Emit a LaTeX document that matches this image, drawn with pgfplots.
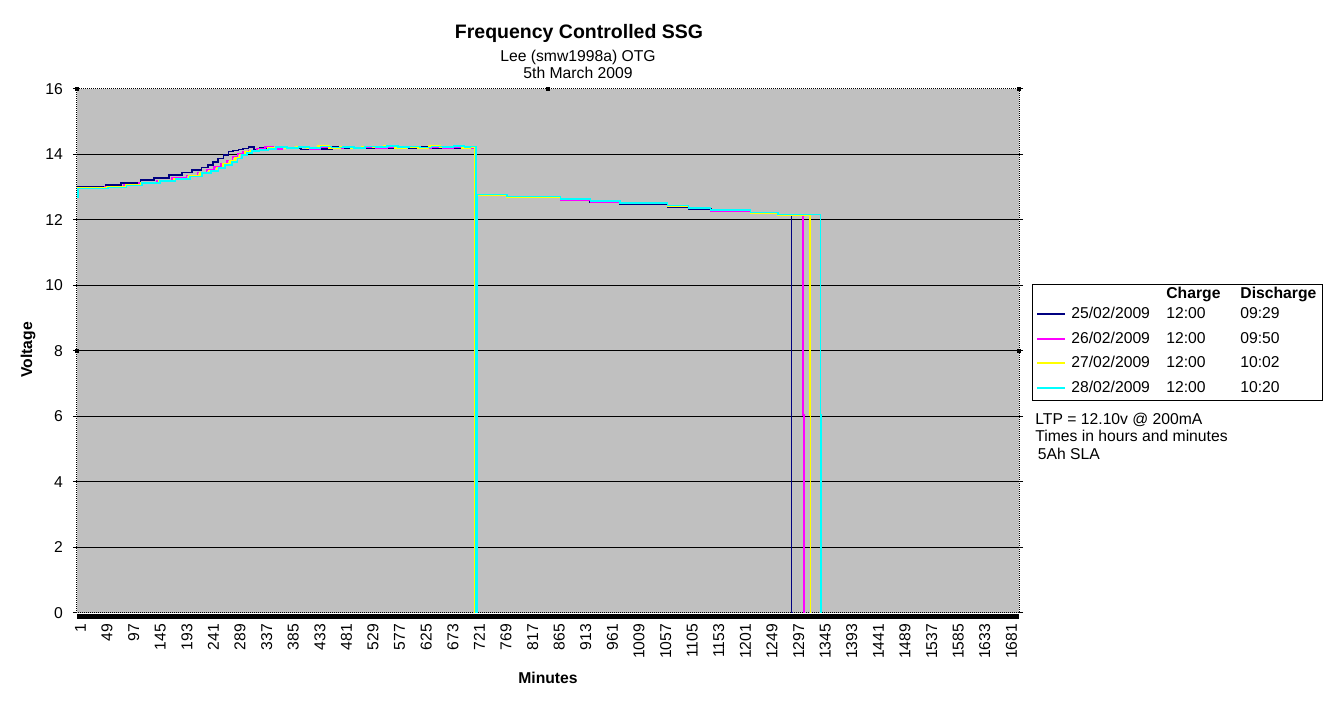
\documentclass[border=0pt]{standalone}
\usepackage{pgfplots}
\pgfplotsset{compat=1.18}
\usepackage{fontspec}
\setmainfont{Liberation Sans}
\definecolor{plotgray}{RGB}{192,192,192}
\definecolor{sNavy}{RGB}{0,0,128}
\definecolor{sMag}{RGB}{255,0,255}
\definecolor{sYel}{RGB}{255,255,0}
\definecolor{sCyan}{RGB}{0,255,255}
\newcommand{\fs}{\fontsize{7.85}{9.4}\selectfont}

\pgfplotstableread{
x y
1 12.75
2 13.02
52 13.07
80 13.12
115 13.22
140 13.28
166 13.37
190 13.45
208 13.53
225 13.60
237 13.68
246 13.78
255 13.88
265 13.98
274 14.09
282 14.12
292 14.15
300 14.18
310 14.22
320 14.15
330 14.20
345 14.17
360 14.22
375 14.18
390 14.21
405 14.15
420 14.20
440 14.17
460 14.22
480 14.18
500 14.21
520 14.19
540 14.22
560 14.20
580 14.23
600 14.20
620 14.22
640 14.19
660 14.23
680 14.21
700 14.22
712 14.20
720 14.22
721 0
722 12.75
777 12.69
873 12.60
927 12.54
981 12.48
1066 12.40
1104 12.33
1144 12.26
1216 12.20
1265 12.15
1290 0
1291 0
}\dataA

\pgfplotstableread{
x y
1 12.72
2 12.98
50 13.02
85 13.08
112 13.14
145 13.20
172 13.28
198 13.36
218 13.45
234 13.53
248 13.62
260 13.72
271 13.82
281 13.92
290 14.02
300 14.08
310 14.12
325 14.16
340 14.22
355 14.16
370 14.21
385 14.18
400 14.23
420 14.17
440 14.22
460 14.19
480 14.24
500 14.20
520 14.22
540 14.19
560 14.23
580 14.21
600 14.24
620 14.20
640 14.22
660 14.19
680 14.23
700 14.20
712 14.18
720 14.23
721 0
722 12.77
777 12.71
873 12.62
927 12.56
981 12.50
1066 12.42
1104 12.35
1144 12.28
1216 12.21
1265 12.16
1311 6.05
1312 0
1313 0
}\dataB

\pgfplotstableread{
x y
1 12.70
2 12.97
54 13.00
88 13.06
115 13.13
148 13.19
175 13.26
202 13.34
222 13.44
238 13.51
252 13.60
264 13.70
276 13.80
286 13.90
294 14.00
304 14.07
313 14.11
328 14.15
345 14.20
360 14.24
375 14.18
395 14.22
415 14.19
435 14.25
455 14.20
475 14.23
495 14.18
515 14.24
535 14.21
555 14.25
575 14.19
595 14.23
615 14.20
635 14.25
655 14.21
675 14.24
695 14.19
710 14.22
716 14.24
718 0
722 12.77
777 12.71
873 12.63
927 12.57
981 12.51
1066 12.43
1104 12.36
1144 12.29
1216 12.22
1265 12.16
1323 6.05
1324 0
1325 0
}\dataC

\pgfplotstableread{
x y
1 12.70
2 12.96
57 12.99
90 13.05
118 13.12
150 13.18
178 13.25
205 13.33
226 13.43
242 13.50
256 13.58
268 13.68
280 13.78
290 13.88
298 13.98
307 14.05
316 14.10
330 14.14
346 14.17
360 14.22
380 14.19
400 14.23
420 14.20
440 14.24
460 14.21
480 14.23
500 14.20
520 14.24
540 14.22
560 14.25
580 14.22
600 14.24
620 14.21
640 14.24
660 14.22
680 14.25
700 14.23
710 14.24
720 14.24
721 0
722 12.78
777 12.72
873 12.64
927 12.58
981 12.52
1066 12.44
1104 12.37
1144 12.30
1216 12.23
1265 12.17
1342 6.05
1343 0
1344 0
}\dataD

\begin{document}
\begin{tikzpicture}
\useasboundingbox (0,0) rectangle (664pt,364pt);
\begin{axis}[
  at={(38.5pt,57.5pt)}, anchor=south west,
  scale only axis, width=471pt, height=262pt,
  xmin=0.5, xmax=1700.5, ymin=0, ymax=16,
  xtick={1,49,...,1681},
  ytick={0,2,...,16},
  minor ytick={2,4,...,14},
  yminorgrids,
  minor grid style={black, line width=0.5pt},
  minor tick length=0pt,
  tick align=outside,
  major tick length=2pt,
  xtick style={draw=none},
  ytick style={black, line width=0.5pt},
  axis background/.style={fill=plotgray},
  axis line style={black, line width=0.5pt, dash pattern=on 0.5pt off 0.5pt},
  tick label style={font=\fs},
  /pgf/number format/assume math mode=true,
  /pgf/number format/1000 sep={},
  xticklabel style={rotate=90, anchor=east, yshift=-1.6pt},
  yticklabel style={xshift=-1.5pt},
]
\addplot[const plot, sNavy, line width=0.9pt] table {\dataA};
\addplot[const plot, sMag, line width=0.85pt] table {\dataB};
\addplot[const plot, sYel, line width=0.85pt] table {\dataC};
\addplot[const plot, sCyan, line width=0.85pt] table {\dataD};
\end{axis}

% bottom band of category axis
\draw[black, line width=2.35pt] (38.5pt,55.65pt) -- (509.5pt,55.65pt);
% selection handles
\foreach \p in {(38.5pt,319.5pt),(274pt,319.5pt),(509.5pt,319.5pt),(38.5pt,188.5pt),(509.5pt,188.5pt)}
  \fill[black] \p ++(-1.2pt,-1.2pt) rectangle ++(2.4pt,2.4pt);

% titles
\node[anchor=base, font=\bfseries\fontsize{9.75}{11}\selectfont] at (289.5pt,344.8pt) {Frequency Controlled SSG};
\node[anchor=base, font=\fs] at (289pt,333.2pt) {Lee (smw1998a) OTG};
\node[anchor=base, font=\fs] at (289pt,324.6pt) {5th March 2009};
\node[rotate=90, font=\bfseries\fs] at (14pt,189pt) {Voltage};
\node[font=\bfseries\fs] at (274pt,25pt) {Minutes};

% legend
\draw[black, line width=0.5pt] (516.3pt,163.5pt) rectangle (661.3pt,221.5pt);
\node[anchor=base west, inner sep=0pt, font=\bfseries\fs] at (583pt,214.6pt) {Charge};
\node[anchor=base west, inner sep=0pt, font=\bfseries\fs] at (620pt,214.6pt) {Discharge};
\foreach \c/\d/\t/\yy in {sNavy/25/09:29/204.6, sMag/26/09:50/192.1, sYel/27/10:02/180.0, sCyan/28/10:20/167.5}{
  \draw[\c, line width=0.75pt] (518.5pt,\yy pt+2.5pt) -- (532.5pt,\yy pt+2.5pt);
  \node[anchor=base west, inner sep=0pt, font=\fs] at (535.5pt,\yy pt) {\d/02/2009};
  \node[anchor=base west, inner sep=0pt, font=\fs] at (583pt,\yy pt) {12:00};
  \node[anchor=base west, inner sep=0pt, font=\fs] at (620pt,\yy pt) {\t};
}
\node[anchor=base west, inner sep=0pt, font=\fs] at (517.5pt,151.6pt) {LTP = 12.10v @ 200mA};
\node[anchor=base west, inner sep=0pt, font=\fs] at (517.5pt,143.0pt) {Times in hours and minutes};
\node[anchor=base west, inner sep=0pt, font=\fs] at (518.7pt,134.3pt) {5Ah SLA};
\end{tikzpicture}
\end{document}
